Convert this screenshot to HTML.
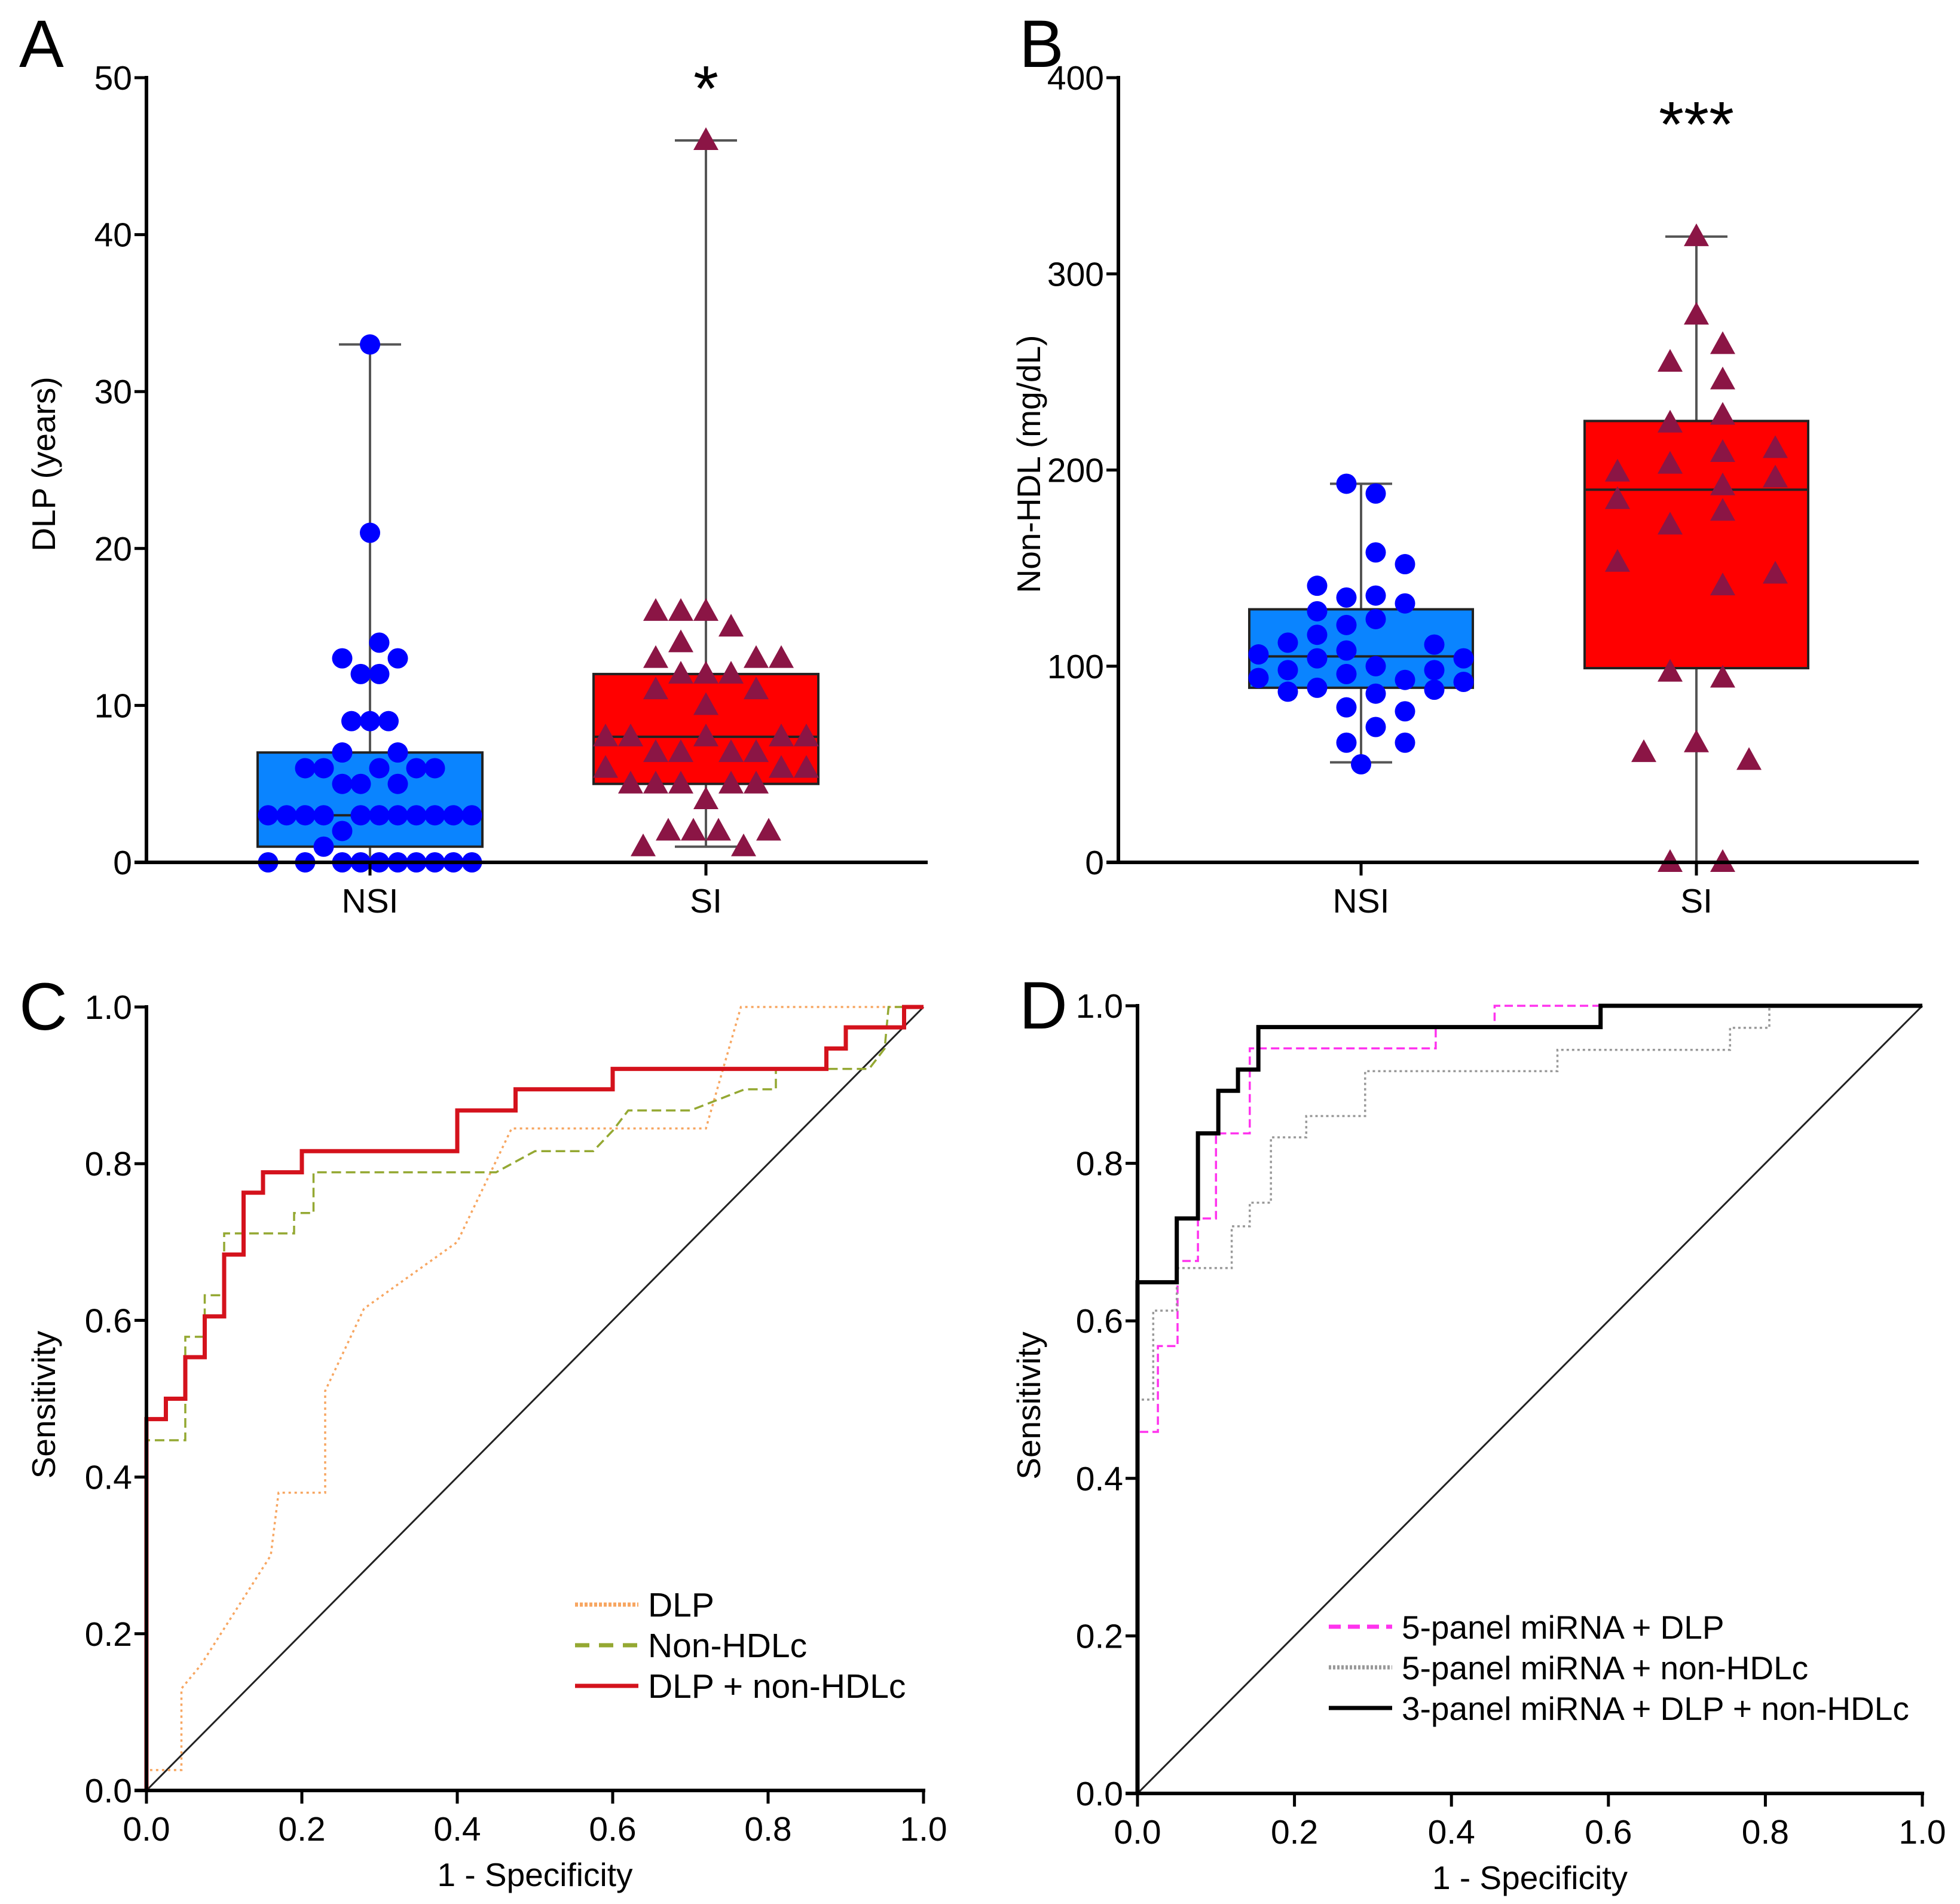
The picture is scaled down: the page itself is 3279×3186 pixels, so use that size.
<!DOCTYPE html>
<html><head><meta charset="utf-8"><style>
html,body{margin:0;padding:0;background:#fff;}
svg{display:block;font-family:"Liberation Sans",Arial,sans-serif;}
</style></head>
<body>
<svg id="fig" xmlns="http://www.w3.org/2000/svg" width="3279" height="3186" viewBox="0 0 3279 3186">
<rect width="3279" height="3186" fill="#fff"/>
</svg>
<script>
// ---------- Data ----------
const boxCategories = ["NSI", "SI"];
const dlpTicks = [0, 10, 20, 30, 40, 50];
const hdlTicks = [0, 100, 200, 300, 400];
// box stats: [min, q1, median, q3, max]
const dlpNSIStats = [0, 1, 3, 7, 33];
const dlpSIStats = [1, 5, 8, 12, 46];
const hdlNSIStats = [51, 89, 105, 129, 193];
const hdlSIStats = [0, 99, 190, 225, 319];
// points: values and horizontal jitter slot
const dlpNSIValues = [33,21,14,13,13,12,12,9,9,9,7,7,6,6,6,6,6,5,5,5,3,3,3,3,3,3,3,3,3,3,3,2,1,0,0,0,0,0,0,0,0,0,0];
const dlpNSISlots  = [0,0,0.5,-1.5,1.5,-0.5,0.5,-1,0,1,-1.5,1.5,-3.5,-2.5,0.5,2.5,3.5,-1.5,-0.5,1.5,-5.5,-4.5,-3.5,-2.5,-0.5,0.5,1.5,2.5,3.5,4.5,5.5,-1.5,-2.5,-5.5,-3.5,-1.5,-0.5,0.5,1.5,2.5,3.5,4.5,5.5];
const dlpSIValues = [46,16,16,16,15,14,13,13,13,12,12,12,11,11,10,8,8,8,8,8,7,7,7,7,6,6,6,5,5,5,5,5,4,2,2,2,2,1,1];
const dlpSISlots  = [0,-2,-1,0,1,-1,-2,2,3,-1,0,1,-2,2,0,-4,-3,0,3,4,-2,-1,1,2,-4,3,4,-3,-2,-1,1,2,0,-1.5,-0.5,0.5,2.5,-2.5,1.5];
const hdlNSIValues = [193,188,158,152,141,135,136,132,128,124,121,116,112,111,108,106,104,104,100,98,98,96,94,93,92,89,88,87,86,79,77,69,61,61,50];
const hdlNSISlots  = [-0.5,0.5,0.5,1.5,-1.5,-0.5,0.5,1.5,-1.5,0.5,-0.5,-1.5,-2.5,2.5,-0.5,-3.5,-1.5,3.5,0.5,-2.5,2.5,-0.5,-3.5,1.5,3.5,-1.5,2.5,-2.5,0.5,-0.5,1.5,0.5,-0.5,1.5,0];
const hdlSIValues = [319,279,264,255,246,228,224,211,209,203,199,196,192,185,179,172,153,147,141,97,94,61,56,52,0,0];
const hdlSISlots  = [0,0,1,-1,1,1,-1,3,1,-1,-3,3,1,-3,1,-1,-3,3,1,-1,1,0,-2,2,-1,1];
// ROC curves (x = 1-specificity, y = sensitivity)
const rocTicks = [0, 0.2, 0.4, 0.6, 0.8, 1.0];
const cDlpX = [0,0,0.045,0.045,0.07,0.16,0.17,0.23,0.23,0.28,0.4,0.47,0.72,0.765,1];
const cDlpY = [0,0.026,0.026,0.13,0.16,0.3,0.38,0.38,0.51,0.615,0.7,0.845,0.845,1,1];
const cHdlX = [0,0,0.05,0.05,0.075,0.075,0.1,0.1,0.19,0.19,0.215,0.215,0.45,0.5,0.575,0.6,0.62,0.7,0.77,0.81,0.81,0.93,0.95,0.955,1];
const cHdlY = [0,0.447,0.447,0.579,0.579,0.632,0.632,0.711,0.711,0.737,0.737,0.789,0.789,0.816,0.816,0.842,0.868,0.868,0.895,0.895,0.921,0.921,0.947,1,1];
const cComboX = [0,0,0.025,0.025,0.05,0.05,0.075,0.075,0.1,0.1,0.125,0.125,0.15,0.15,0.2,0.2,0.4,0.4,0.475,0.475,0.6,0.6,0.875,0.875,0.9,0.9,0.975,0.975,1];
const cComboY = [0,0.474,0.474,0.5,0.5,0.553,0.553,0.605,0.605,0.684,0.684,0.763,0.763,0.789,0.789,0.816,0.816,0.868,0.868,0.895,0.895,0.921,0.921,0.947,0.947,0.974,0.974,1,1];
const dMagX = [0,0,0.026,0.026,0.051,0.051,0.077,0.077,0.1,0.1,0.143,0.143,0.38,0.38,0.455,0.455,1];
const dMagY = [0,0.459,0.459,0.568,0.568,0.676,0.676,0.73,0.73,0.838,0.838,0.946,0.946,0.973,0.973,1,1];
const dGrayX = [0,0,0.02,0.02,0.05,0.05,0.12,0.12,0.143,0.143,0.17,0.17,0.215,0.215,0.29,0.29,0.535,0.535,0.755,0.755,0.805,0.805,1];
const dGrayY = [0,0.5,0.5,0.613,0.613,0.667,0.667,0.72,0.72,0.75,0.75,0.833,0.833,0.86,0.86,0.917,0.917,0.944,0.944,0.972,0.972,1,1];
const dBlackX = [0,0,0.05,0.05,0.077,0.077,0.103,0.103,0.128,0.128,0.154,0.154,0.59,0.59,1];
const dBlackY = [0,0.649,0.649,0.73,0.73,0.838,0.838,0.892,0.892,0.919,0.919,0.973,0.973,1,1];

// ---------- Helpers ----------
const NS = "http://www.w3.org/2000/svg";
const svg = document.getElementById("fig");
function mk(tag, attrs, parent) {
  const e = document.createElementNS(NS, tag);
  for (const k in attrs) e.setAttribute(k, attrs[k]);
  (parent || svg).appendChild(e);
  return e;
}
function txt(str, x, y, size, anchor, parent, rot) {
  const t = mk("text", {x: x, y: y, "font-size": size, "text-anchor": anchor || "middle", fill: "#000"}, parent);
  if (rot) t.setAttribute("transform", "rotate(-90 " + x + " " + y + ")");
  t.textContent = str;
  return t;
}
function linY(v0, v1, p0, p1) { return v => p0 + (v - v0) / (v1 - v0) * (p1 - p0); }

// ---------- Box panels ----------
function boxPanel(cfg) {
  const g = mk("g", {});
  
  
  const y = linY(0, cfg.ymax, cfg.y0, cfg.ytop);
  const xs = [cfg.xNSI, cfg.xSI];
  const L = txt(cfg.letter, cfg.letterX, 112, 112, "start", g);
  
  
  const stats = [cfg.nsiStats, cfg.siStats];
  const fills = ["#0a84ff", "#ff0000"];
  for (let i = 0; i < 2; i++) {
    const s = stats[i], cx = xs[i], hw = cfg.boxHW, cw = 52;
    const wl = mk("line", {x1: cx, x2: cx, y1: y(s[0]), y2: y(s[4]), stroke: "#555", "stroke-width": 4}, g);
    
    
    for (const v of [s[0], s[4]]) {
      const c = mk("line", {x1: cx - cw, x2: cx + cw, y1: y(v), y2: y(v), stroke: "#555", "stroke-width": 4}, g);
      
      
    }
    const b = mk("rect", {x: cx - hw, y: y(s[3]), width: 2 * hw, height: y(s[1]) - y(s[3]), fill: fills[i], stroke: "#222", "stroke-width": 4}, g);
    
    
    const m = mk("line", {x1: cx - hw, x2: cx + hw, y1: y(s[2]), y2: y(s[2]), stroke: "#222", "stroke-width": 4}, g);
    
    
  }
  for (let i = 0; i < cfg.nsiVals.length; i++) {
    const c = mk("circle", {cx: cfg.xNSI + cfg.nsiSlots[i] * cfg.nsiStep, cy: y(cfg.nsiVals[i]), r: 17, fill: "#0000ff"}, g);
    
    
  }
  for (let i = 0; i < cfg.siVals.length; i++) {
    const cx = cfg.xSI + cfg.siSlots[i] * cfg.siStep, cy = y(cfg.siVals[i]);
    const p = mk("polygon", {points: (cx - 21) + "," + (cy + 16) + " " + (cx + 21) + "," + (cy + 16) + " " + cx + "," + (cy - 22), fill: "#8b1545"}, g);
    
    
  }
  const ya = mk("line", {x1: cfg.ax, x2: cfg.ax, y1: cfg.ytop - 3, y2: cfg.y0 + 3, stroke: "#000", "stroke-width": 6}, g);
  
  
  const xa = mk("line", {x1: cfg.ax - 20, x2: cfg.xend, y1: cfg.y0, y2: cfg.y0, stroke: "#000", "stroke-width": 6}, g);
  
  
  for (const t of cfg.ticks) {
    const tk = mk("line", {x1: cfg.ax - 20, x2: cfg.ax, y1: y(t), y2: y(t), stroke: "#000", "stroke-width": 5}, g);
    
    
    const tl = txt(String(t), cfg.ax - 24, y(t) + 20, 57, "end", g);
    
    
  }
  for (let i = 0; i < 2; i++) {
    const tk = mk("line", {x1: xs[i], x2: xs[i], y1: cfg.y0, y2: cfg.y0 + 22, stroke: "#000", "stroke-width": 5}, g);
    
    
    const tl = txt(boxCategories[i], xs[i], cfg.y0 + 84, 57, "middle", g);
    
    
  }
  const yt = txt(cfg.ytitle, cfg.ytitleX, (cfg.y0 + cfg.ytop) / 2 - 10, 55, "middle", g, true);
  
  
  const st = txt(cfg.sig, cfg.xSI, cfg.sigY, 108, "middle", g);
  
  
}

boxPanel({name: "panel-a-dlp", letter: "A", letterX: 32, ax: 245, xend: 1552, y0: 1443, ytop: 130, ymax: 50,
  ticks: dlpTicks, xNSI: 619, xSI: 1181, boxHW: 188, nsiStats: dlpNSIStats, siStats: dlpSIStats,
  nsiVals: dlpNSIValues, nsiSlots: dlpNSISlots, nsiStep: 31, siVals: dlpSIValues, siSlots: dlpSISlots, siStep: 42,
  ytitle: "DLP (years)", ytitleX: 92, sig: "*", sigY: 185});
boxPanel({name: "panel-b-non-hdl", letter: "B", letterX: 1705, ax: 1871, xend: 3210, y0: 1443, ytop: 130, ymax: 400,
  ticks: hdlTicks, xNSI: 2277, xSI: 2838, boxHW: 187, nsiStats: hdlNSIStats, siStats: hdlSIStats,
  nsiVals: hdlNSIValues, nsiSlots: hdlNSISlots, nsiStep: 49, siVals: hdlSIValues, siSlots: hdlSISlots, siStep: 44,
  ytitle: "Non-HDL (mg/dL)", ytitleX: 1740, sig: "***", sigY: 245});

// ---------- ROC panels ----------
function rocPanel(cfg) {
  const g = mk("g", {});
  
  
  const X = linY(0, 1, cfg.ax, cfg.x1), Y = linY(0, 1, cfg.y0, cfg.y1);
  const L = txt(cfg.letter, cfg.letterX, cfg.y1 + 38, 112, "start", g);
  
  
  const ref = mk("line", {x1: X(0), y1: Y(0), x2: X(1), y2: Y(1), stroke: "#222", "stroke-width": 3}, g);
  
  
  for (const s of cfg.series) {
    const pts = s.x.map((v, i) => X(v).toFixed(1) + "," + Y(s.y[i]).toFixed(1)).join(" ");
    const pl = mk("polyline", {points: pts, fill: "none", stroke: s.color, "stroke-width": s.w, "stroke-dasharray": s.dash || "none", "stroke-linejoin": "miter"}, g);
    
    
  }
  const ya = mk("line", {x1: cfg.ax, x2: cfg.ax, y1: cfg.y1 - 3, y2: cfg.y0 + 3, stroke: "#000", "stroke-width": 6}, g);
  
  
  const xa = mk("line", {x1: cfg.ax - 20, x2: cfg.x1 + 3, y1: cfg.y0, y2: cfg.y0, stroke: "#000", "stroke-width": 6}, g);
  
  
  for (const t of rocTicks) {
    const tk = mk("line", {x1: cfg.ax - 20, x2: cfg.ax, y1: Y(t), y2: Y(t), stroke: "#000", "stroke-width": 5}, g);
    
    
    const tl = txt(t.toFixed(1), cfg.ax - 24, Y(t) + 20, 57, "end", g);
    
    
    const xk = mk("line", {x1: X(t), x2: X(t), y1: cfg.y0, y2: cfg.y0 + 22, stroke: "#000", "stroke-width": 5}, g);
    
    
    const xl = txt(t.toFixed(1), X(t), cfg.y0 + 84, 57, "middle", g);
    
    
  }
  const xt = txt("1 - Specificity", (cfg.ax + cfg.x1) / 2, cfg.y0 + 160, 55, "middle", g);
  
  
  const yt = txt("Sensitivity", cfg.ytitleX, (cfg.y0 + cfg.y1) / 2 + 10, 55, "middle", g, true);
  
  
  cfg.series.forEach((s, i) => {
    const ly = cfg.legY + i * cfg.legStep;
    const ll = mk("line", {x1: cfg.legX, x2: cfg.legX + 106, y1: ly, y2: ly, stroke: s.color, "stroke-width": s.lw, "stroke-dasharray": s.ldash || "none"}, g);
    
    
    const lt = txt(s.label, cfg.legX + 122, ly + 20, cfg.legFont, "start", g);
    
    
  });
}

rocPanel({name: "panel-c-roc", letter: "C", letterX: 32, ax: 245, x1: 1545, y0: 2996, y1: 1685, ytitleX: 92,
  legX: 962, legY: 2685, legStep: 68, legFont: 57,
  series: [
    {id: "dlp", label: "DLP", x: cDlpX, y: cDlpY, color: "#f7a661", w: 3.5, dash: "4 6", lw: 7, ldash: "5 3"},
    {id: "non-hdlc", label: "Non-HDLc", x: cHdlX, y: cHdlY, color: "#94a832", w: 3.5, dash: "16 8", lw: 7, ldash: "24 16"},
    {id: "dlp-non-hdlc", label: "DLP + non-HDLc", x: cComboX, y: cComboY, color: "#d4121c", w: 7, lw: 7}
  ]});
rocPanel({name: "panel-d-roc", letter: "D", letterX: 1705, ax: 1903, x1: 3216, y0: 3001, y1: 1683, ytitleX: 1740,
  legX: 2223, legY: 2722, legStep: 68, legFont: 55,
  series: [
    {id: "mirna5-dlp", label: "5-panel miRNA + DLP", x: dMagX, y: dMagY, color: "#ff33ee", w: 3.5, dash: "14 7", lw: 7, ldash: "20 12"},
    {id: "mirna5-non-hdlc", label: "5-panel miRNA + non-HDLc", x: dGrayX, y: dGrayY, color: "#999", w: 3.5, dash: "4 5", lw: 7, ldash: "4 3"},
    {id: "mirna3-dlp-non-hdlc", label: "3-panel miRNA + DLP + non-HDLc", x: dBlackX, y: dBlackY, color: "#000", w: 7, lw: 7}
  ]});
</script>
</body></html>
